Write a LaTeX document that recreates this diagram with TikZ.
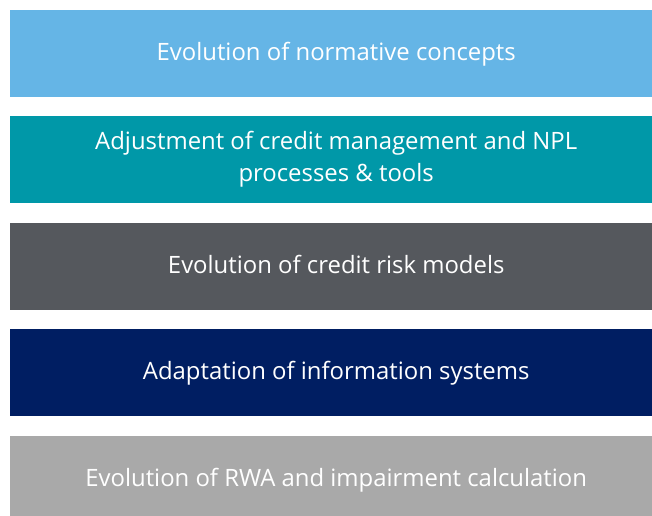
\documentclass[tikz,border=0pt]{standalone}
\usepackage{fontspec}
\setmainfont{Open Sans}
\usetikzlibrary{positioning}
\definecolor{lblue}{RGB}{101,181,230}
\definecolor{teal}{RGB}{0,152,168}
\definecolor{dgray}{RGB}{85,88,93}
\definecolor{navy}{RGB}{0,30,98}
\definecolor{lgray}{RGB}{169,169,169}

\begin{document}
\begin{tikzpicture}[x=1pt,y=-1pt,
    bar/.style={rectangle, anchor=north west, minimum width=652pt, minimum height=87pt,
      inner sep=0pt, text=white, align=center, font=\fontsize{23.9}{32}\selectfont},
    onerow/.style={text height=18pt, text depth=5pt},
    tworow/.style={}]
  \useasboundingbox (0,0) rectangle (652,515);
  \clip (0,0) rectangle (652,515);
  \foreach \nm/\col/\y/\opt/\lbl in {normative/lblue/10/onerow/{Evolution of normative concepts},
      credit/teal/116/tworow/{Adjustment of credit management and NPL\\processes \& tools},
      models/dgray/223/onerow/{Evolution of credit risk models},
      systems/navy/329/onerow/{Adaptation of information systems},
      rwa/lgray/436/onerow/{Evolution of RWA and impairment calculation}}{
    \node[bar, fill=\col, \opt] (\nm) at (10,\y) {\lbl};
  }
\end{tikzpicture}
\end{document}
